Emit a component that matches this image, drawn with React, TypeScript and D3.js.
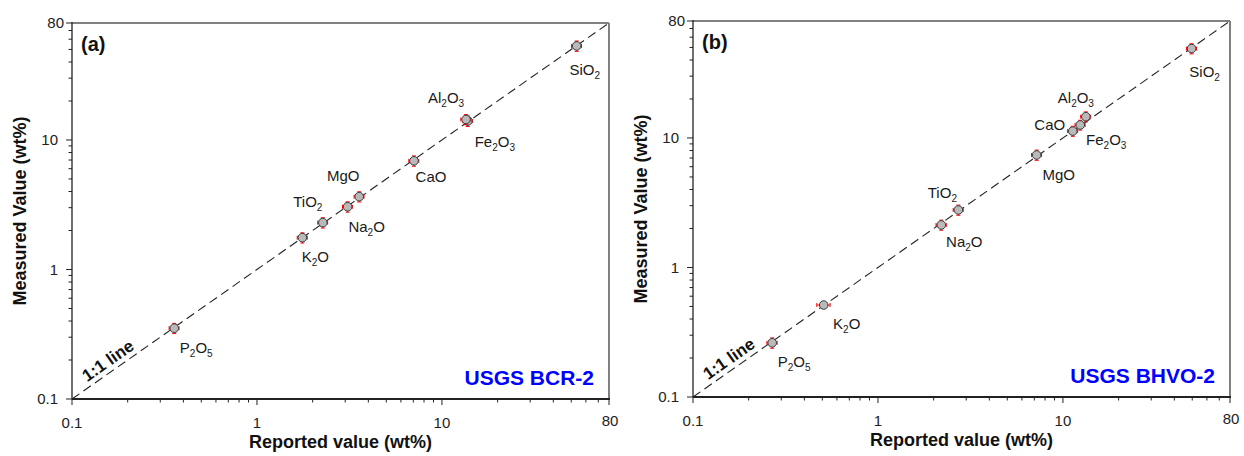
import React from "react";
import * as d3 from "d3";

// ---------- Data ----------
const OXIDES_A = ["P2O5", "K2O", "TiO2", "Na2O", "MgO", "CaO", "Fe2O3", "Al2O3", "SiO2"];
const BCR2_REPORTED = [0.357, 1.76, 2.27, 3.09, 3.57, 7.06, 13.8, 13.5, 53.5];
const BCR2_MEASURED = [0.352, 1.76, 2.3, 3.05, 3.65, 6.9, 14.0, 14.4, 53.2];
const BCR2_REPORTED_SD = [0.022, 0.11, 0.14, 0.19, 0.22, 0.44, 0.85, 0.85, 3.3];
const BCR2_MEASURED_SD = [0.032, 0.16, 0.21, 0.28, 0.33, 0.63, 1.3, 1.3, 4.9];

const OXIDES_B = ["P2O5", "K2O", "Na2O", "TiO2", "MgO", "CaO", "Fe2O3", "Al2O3", "SiO2"];
const BHVO2_REPORTED = [0.268, 0.509, 2.2, 2.72, 7.21, 11.3, 12.4, 13.3, 49.6];
const BHVO2_MEASURED = [0.262, 0.513, 2.13, 2.78, 7.39, 11.3, 12.6, 14.6, 49.0];
const BHVO2_REPORTED_SD = [0.017, 0.042, 0.14, 0.17, 0.45, 0.7, 0.78, 0.83, 3.1];
const BHVO2_MEASURED_SD = [0.024, 0.03, 0.19, 0.25, 0.67, 1.0, 1.1, 1.3, 4.4];

const AXIS_DOMAIN = [0.1, 80];
const MAJOR_TICKS = [0.1, 1, 10];
const MAJOR_TICK_LABELS = ["0.1", "1", "10"];
const END_TICK = 80;
const END_TICK_LABEL = "80";
const MINOR_TICKS = [0.2, 0.3, 0.4, 0.5, 0.6, 0.7, 0.8, 0.9, 2, 3, 4, 5, 6, 7, 8, 9, 20, 30, 40, 50, 60, 70];

// ---------- Layout ----------
const FONT = "Arial, 'Liberation Sans', Helvetica, sans-serif";
const LABEL_OFFSETS_A: [number, number][] = [
  [22, 20], [13, 19], [-15, -21], [19, 20], [-16, -21], [17, 16], [27, 21], [-20, -21], [8, 24],
];
const LABEL_OFFSETS_B: [number, number][] = [
  [22, 19], [23, 19], [23, 17], [-16, -17], [22, 20], [-23, -6], [26, 15], [-10, -19], [13, 23],
];

type Box = { l: number; t: number; r: number; b: number };

function Formula({ text, x, y }: { text: string; x: number; y: number }) {
  const parts = text.match(/[A-Za-z]+|\d+/g) || [];
  return (
    <text x={x} y={y} textAnchor="middle" fontSize={15} fontFamily={FONT} fill="#1a1a1a">
      {parts.map((p, i) =>
        /\d/.test(p) ? (
          <tspan key={i} fontSize={10} dy={4}>{p}</tspan>
        ) : (
          <tspan key={i} dy={i > 0 ? -4 : 0}>{p}</tspan>
        )
      )}
    </text>
  );
}

function Panel({
  box, tag, sample, oxides, rep, meas, repSd, measSd, offsets,
}: {
  box: Box; tag: string; sample: string; oxides: string[]; rep: number[]; meas: number[];
  repSd: number[]; measSd: number[]; offsets: [number, number][];
}) {
  const x = d3.scaleLog().domain(AXIS_DOMAIN).range([box.l, box.r]);
  const y = d3.scaleLog().domain(AXIS_DOMAIN).range([box.b, box.t]);
  const line = d3.line<number>().x((d) => x(d)).y((d) => y(d));
  const diag = line(AXIS_DOMAIN) || "";

  // 1:1 label along diagonal
  const dx = box.r - box.l;
  const dy = box.b - box.t;
  const len = Math.sqrt(dx * dx + dy * dy);
  const ux = dx / len, uy = -dy / len;
  const along = 22;
  const perp = 5;
  const lx = box.l + ux * along + uy * perp;
  const ly = box.b + uy * along - ux * perp;
  const angle = (Math.atan2(-dy, dx) * 180) / Math.PI;

  const cap = 2;
  return (
    <g>
      {/* frame */}
      <line x1={box.l} y1={box.t} x2={box.r} y2={box.t} stroke="#808080" strokeWidth={2} />
      <line x1={box.r} y1={box.t} x2={box.r} y2={box.b} stroke="#808080" strokeWidth={2} />
      <line x1={box.l} y1={box.t - 1} x2={box.l} y2={box.b} stroke="#222" strokeWidth={1.3} />
      <line x1={box.l} y1={box.b} x2={box.r + 1} y2={box.b} stroke="#222" strokeWidth={2} />

      {/* ticks */}
      {[...MAJOR_TICKS, END_TICK].map((v) => (
        <g key={"M" + v}>
          <line x1={x(v)} x2={x(v)} y1={box.b} y2={box.b + 6} stroke="#222" strokeWidth={1} />
          <line x1={box.l} x2={box.l - 6} y1={y(v)} y2={y(v)} stroke="#222" strokeWidth={1} />
        </g>
      ))}
      {MINOR_TICKS.map((v) => (
        <g key={"m" + v}>
          <line x1={x(v)} x2={x(v)} y1={box.b} y2={box.b + 3.5} stroke="#222" strokeWidth={1} />
          <line x1={box.l} x2={box.l - 3.5} y1={y(v)} y2={y(v)} stroke="#222" strokeWidth={1} />
        </g>
      ))}
      {MAJOR_TICKS.map((v, i) => (
        <g key={"L" + v}>
          <text x={x(v)} y={box.b + 29} textAnchor="middle" fontSize={15} fontFamily={FONT} fill="#222">
            {MAJOR_TICK_LABELS[i]}
          </text>
          <text x={box.l - 14} y={y(v) + 5.4} textAnchor="end" fontSize={15} fontFamily={FONT} fill="#222">
            {MAJOR_TICK_LABELS[i]}
          </text>
        </g>
      ))}
      <text x={x(END_TICK) + 1} y={box.b + 27} textAnchor="middle" fontSize={15} fontFamily={FONT} fill="#222">
        {END_TICK_LABEL}
      </text>
      <text x={box.l - 8} y={y(END_TICK) + 5} textAnchor="end" fontSize={15} fontFamily={FONT} fill="#222">
        {END_TICK_LABEL}
      </text>

      {/* axis titles */}
      <text x={(box.l + box.r) / 2} y={box.b + 49} textAnchor="middle" fontSize={18} fontWeight="bold" fontFamily={FONT} fill="#111">
        Reported value (wt%)
      </text>
      <text
        transform={`translate(${box.l - 46},${(box.t + box.b) / 2}) rotate(-90)`}
        textAnchor="middle" fontSize={18} fontWeight="bold" fontFamily={FONT} fill="#111"
      >
        Measured Value (wt%)
      </text>

      {/* 1:1 line */}
      <path d={diag} fill="none" stroke="#222" strokeWidth={1.1} strokeDasharray="9,5" />
      <text
        transform={`translate(${lx},${ly}) rotate(${angle})`}
        fontSize={17} fontWeight="bold" fontFamily={FONT} fill="#111"
      >
        1:1 line
      </text>

      {/* points */}
      {oxides.map((ox, i) => {
        const px = x(rep[i]);
        const py = y(meas[i]);
        const x0 = x(rep[i] - repSd[i]), x1 = x(rep[i] + repSd[i]);
        const y0 = y(meas[i] - measSd[i]), y1 = y(meas[i] + measSd[i]);
        return (
          <g key={ox}>
            <g stroke="#ff0000" strokeWidth={1}>
              <line x1={x0} x2={x1} y1={py} y2={py} />
              <line x1={px} x2={px} y1={y0} y2={y1} />
              <line x1={x0} x2={x0} y1={py - cap} y2={py + cap} />
              <line x1={x1} x2={x1} y1={py - cap} y2={py + cap} />
              <line x1={px - cap} x2={px + cap} y1={y0} y2={y0} />
              <line x1={px - cap} x2={px + cap} y1={y1} y2={y1} />
            </g>
            <circle cx={px} cy={py} r={4.3} fill="#b9b9b9" stroke="#3a3a3a" strokeWidth={1} />
          </g>
        );
      })}
      {oxides.map((ox, i) => (
        <Formula key={"t" + ox} text={ox} x={x(rep[i]) + offsets[i][0]} y={y(meas[i]) + offsets[i][1] + 5} />
      ))}

      {/* panel tag & sample */}
      <text x={box.l + 9} y={box.t + 28} fontSize={20} fontWeight="bold" fontFamily={FONT} fill="#111">
        {tag}
      </text>
      <text x={box.r - 15} y={box.b - 14} textAnchor="end" fontSize={21} fontWeight="bold" fontFamily={FONT} fill="#0000ff">
        {sample}
      </text>
    </g>
  );
}

export default function App() {
  return (
    <svg
      width={1244}
      height={456}
      style={{ position: "absolute", left: 0, top: 0, background: "#fff" }}
    >
      <rect x={0} y={0} width={1244} height={456} fill="#fff" />
      <Panel
        box={{ l: 72, t: 23, r: 609, b: 399 }}
        tag="(a)"
        sample="USGS BCR-2"
        oxides={OXIDES_A}
        rep={BCR2_REPORTED}
        meas={BCR2_MEASURED}
        repSd={BCR2_REPORTED_SD}
        measSd={BCR2_MEASURED_SD}
        offsets={LABEL_OFFSETS_A}
      />
      <Panel
        box={{ l: 693, t: 21, r: 1230, b: 397 }}
        tag="(b)"
        sample="USGS BHVO-2"
        oxides={OXIDES_B}
        rep={BHVO2_REPORTED}
        meas={BHVO2_MEASURED}
        repSd={BHVO2_REPORTED_SD}
        measSd={BHVO2_MEASURED_SD}
        offsets={LABEL_OFFSETS_B}
      />
    </svg>
  );
}
